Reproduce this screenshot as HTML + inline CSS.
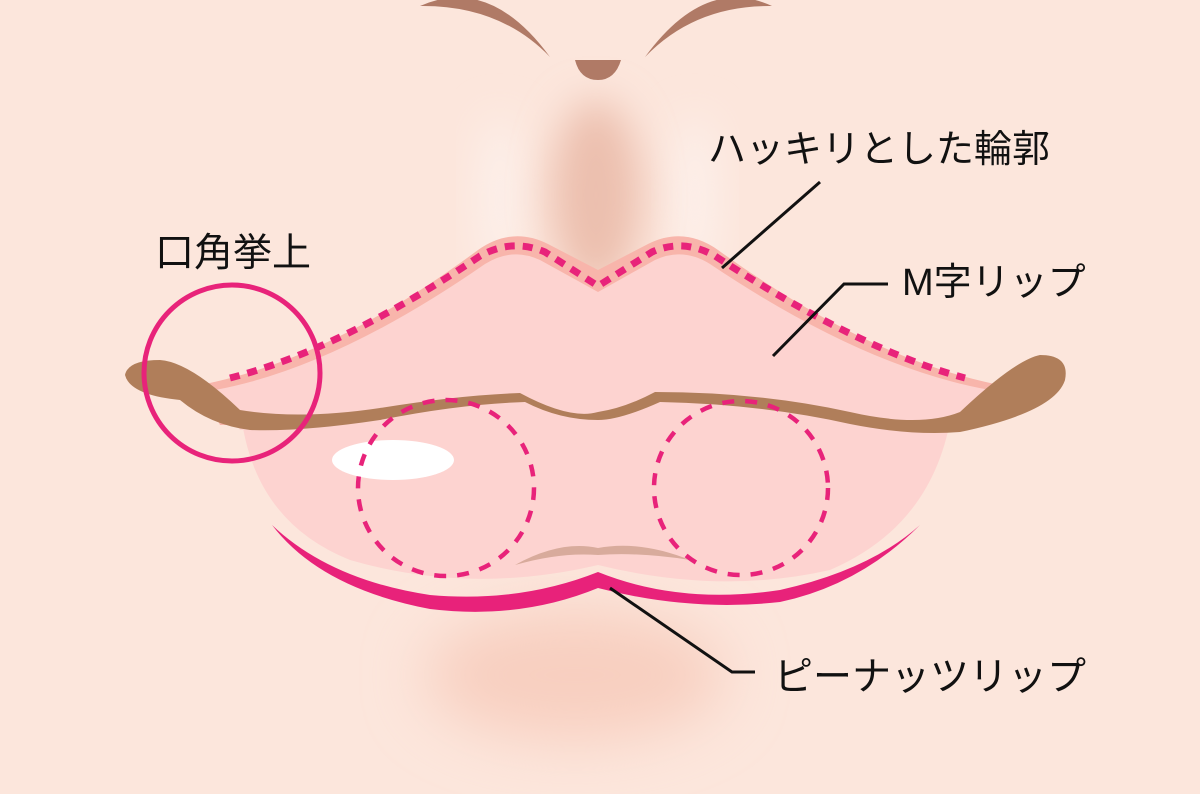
<!DOCTYPE html>
<html><head><meta charset="utf-8"><style>
html,body{margin:0;padding:0;background:#fce6dc;}
svg{display:block}
text{font-family:"Liberation Sans","Noto Sans CJK JP",sans-serif;fill:#111;}
</style></head><body>
<svg width="1200" height="794" viewBox="0 0 1200 794">
<defs>
<filter id="b1" x="-60%" y="-60%" width="220%" height="220%"><feGaussianBlur stdDeviation="20"/></filter>
<filter id="b2" x="-50%" y="-50%" width="200%" height="200%"><feGaussianBlur stdDeviation="30"/></filter>
</defs>
<rect width="1200" height="794" fill="#fce6dc"/>
<ellipse cx="575" cy="675" rx="150" ry="65" fill="#f8cfc0" filter="url(#b2)"/>
<ellipse cx="500" cy="200" rx="20" ry="85" fill="#fdf1ec" filter="url(#b1)"/>
<ellipse cx="695" cy="200" rx="20" ry="85" fill="#fdf1ec" filter="url(#b1)"/>
<ellipse cx="596" cy="195" rx="45" ry="95" fill="#ecbfae" filter="url(#b1)"/>
<path d="M420 6 Q490 -25 550 57 Q500 5 420 6 Z" fill="#b07a66"/>
<path d="M772 6 Q705 -25 645 57 Q695 5 772 6 Z" fill="#b07a66"/>
<path d="M575 60 L621 60 Q615 80 598 80 Q580 80 575 60 Z" fill="#b07a66"/>
<!-- lower lip -->
<path d="M240 405 Q250 520 350 560 Q470 595 598 565 Q720 595 830 570 Q935 525 952 410 Z" fill="#fdd3d0"/>
<!-- upper lip band -->
<path d="M200 385 Q330 360 478 250 Q512 226 548 244 L598 270 L648 244 Q684 226 718 250 Q870 360 1000 385 L980 425 L220 425 Z" fill="#f8b5ab"/>
<path d="M215 390 Q335 368 485 264 Q512 247 540 260 L598 292 L655 260 Q683 247 710 264 Q865 368 990 390 L960 430 L240 430 Z" fill="#fdd3d0"/>
<path d="M230 378 Q340 350 480 256 Q512 238 545 252 L598 286 L652 252 Q683 238 715 256 Q860 350 965 378" fill="none" stroke="#e8237a" stroke-width="7" stroke-dasharray="10 8"/>
<!-- mouth line brown -->
<path d="M125 375 Q128 360 160 360 Q190 362 240 410 Q300 420 380 408 Q460 395 520 393 Q570 420 598 412 Q625 408 655 392 Q760 392 850 412 Q920 428 960 412 Q1015 360 1040 355 Q1070 355 1065 380 Q1055 412 960 432 Q910 436 850 424 Q760 404 660 402 Q620 420 598 420 Q560 420 525 402 Q460 404 380 420 Q300 432 250 430 Q210 425 180 400 Q130 395 125 375 Z" fill="#b07e5a"/>
<path d="M515 565 Q560 540 598 548 Q640 540 690 560 Q640 552 598 555 Q560 552 515 565 Z" fill="#d8ab9c"/>
<path d="M272 525 Q330 580 430 595 Q520 603 598 572 Q680 605 780 590 Q870 570 920 525 Q860 585 780 602 Q690 612 598 588 Q520 620 430 609 Q320 588 272 525 Z" fill="#e8227a"/>
<ellipse cx="393" cy="460" rx="61" ry="20" fill="#ffffff"/>
<circle cx="446" cy="488" r="88" fill="none" stroke="#e8237a" stroke-width="4.5" stroke-dasharray="12 11"/>
<circle cx="741" cy="488" r="87" fill="none" stroke="#e8237a" stroke-width="4.5" stroke-dasharray="12 11"/>
<circle cx="232" cy="373" r="88" fill="none" stroke="#e8237a" stroke-width="5"/>
<g stroke="#111" stroke-width="3" fill="none">
<path d="M820 182 L722 268"/>
<path d="M888 284 L844 284 L773 356"/>
<path d="M610 588 L732 672 L755 672"/>
</g>
<text x="155" y="266" font-size="39">口角挙上</text>
<text x="708" y="162" font-size="38">ハッキリとした輪郭</text>
<text x="902" y="295" font-size="38">M字リップ</text>
<text x="774" y="690" font-size="39">ピーナッツリップ</text>
</svg>
</body></html>
